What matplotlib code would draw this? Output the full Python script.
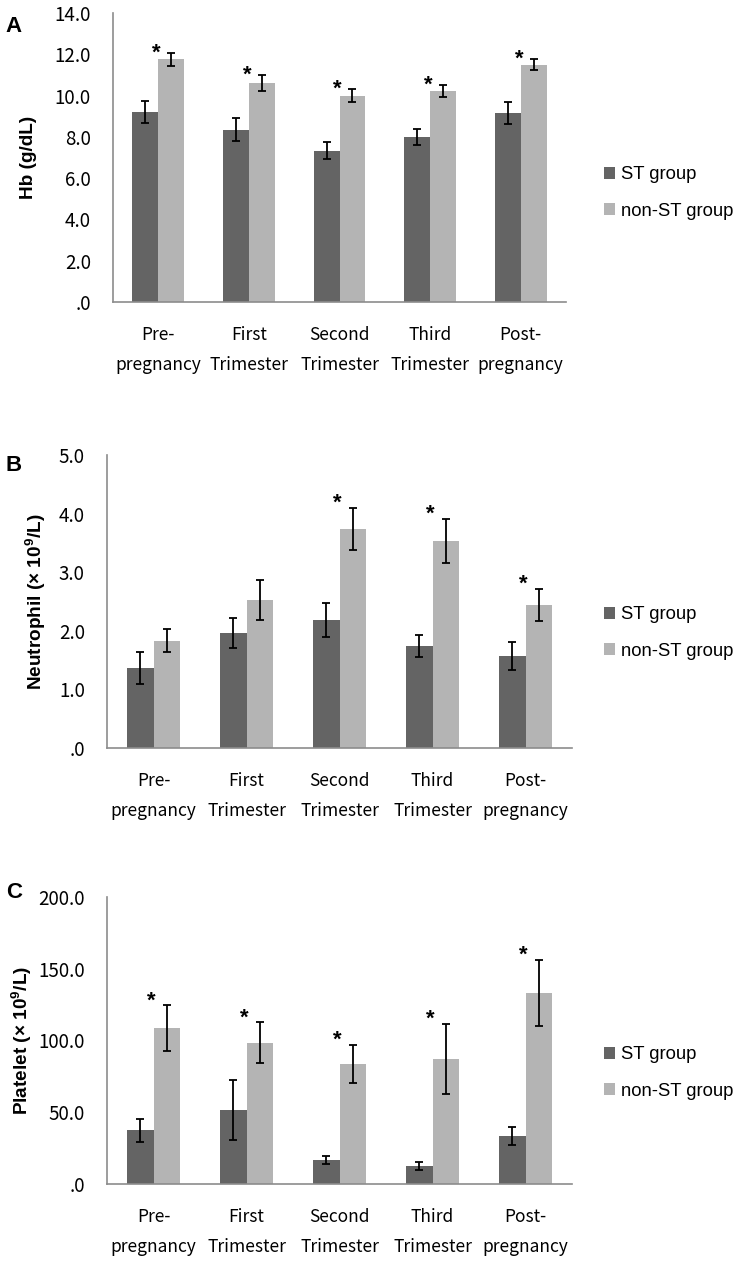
import matplotlib
matplotlib.use('Agg')
import numpy as np
import matplotlib.pyplot as plt
from matplotlib.ticker import FuncFormatter, MultipleLocator

plt.rcParams['mathtext.fontset'] = 'custom'
plt.rcParams['mathtext.rm'] = 'Liberation Sans:bold'
plt.rcParams['mathtext.bf'] = 'Liberation Sans:bold'

# Data
categories = ['Pre-\npregnancy', 'First\nTrimester', 'Second\nTrimester',
              'Third\nTrimester', 'Post-\npregnancy']
series_names = ['ST group', 'non-ST group']

hb_st = [9.2, 8.35, 7.33, 8.0, 9.15]
hb_st_err = [0.53, 0.55, 0.4, 0.39, 0.53]
hb_non = [11.75, 10.6, 10.0, 10.22, 11.5]
hb_non_err = [0.33, 0.4, 0.33, 0.3, 0.26]
hb_star = [True, True, True, True, True]

neu_st = [1.37, 1.96, 2.18, 1.74, 1.57]
neu_st_err = [0.27, 0.26, 0.29, 0.18, 0.24]
neu_non = [1.83, 2.53, 3.74, 3.53, 2.44]
neu_non_err = [0.2, 0.34, 0.36, 0.38, 0.28]
neu_star = [False, False, True, True, True]

plt_st = [37.6, 51.6, 16.7, 12.5, 33.4]
plt_st_err = [8.0, 21.0, 3.1, 2.7, 6.0]
plt_non = [108.7, 98.3, 83.6, 87.2, 133.0]
plt_non_err = [15.7, 14.3, 13.2, 24.4, 23.0]
plt_star = [True, True, True, True, True]

st_color = '#646464'
non_color = '#b4b4b4'
axis_color = '#8c8c8c'

W, H = 742, 1264
fig = plt.figure(figsize=(W / 100, H / 100), dpi=100)


def fy(py):
    # pixel row -> figure fraction
    return 1 - py / H


def tick_fmt(v, pos):
    if abs(v) < 1e-9:
        return '.0'
    return f'{v:.1f}'


def draw_panel(letter, letter_y, ylabel, left_px, right_px, top_px, bot_px, ymax, ystep,
               st, st_err, non, non_err, stars, star_gap_px, legend_y_px, label_px):
    ax = fig.add_axes([left_px / W, fy(bot_px), (right_px - left_px) / W, (bot_px - top_px) / H])
    x = np.arange(len(categories))
    w = 0.285
    ax.bar(x - w / 2, st, w, color=st_color, label=series_names[0], zorder=2)
    ax.bar(x + w / 2, non, w, color=non_color, label=series_names[1], zorder=2)
    ekw = dict(fmt='none', ecolor='black', elinewidth=1.3, capsize=3.2, capthick=1.3, zorder=3)
    ax.errorbar(x - w / 2, st, yerr=st_err, **ekw)
    ax.errorbar(x + w / 2, non, yerr=non_err, **ekw)

    for i, s in enumerate(stars):
        if s:
            ax.annotate('*', (x[i] - 0.02, non[i] + non_err[i]),
                        xytext=(0, (star_gap_px - 12.8) * 0.72), textcoords='offset points',
                        ha='center', va='baseline', fontsize=16, fontweight='bold',
                        family='Liberation Sans', color='black')

    ax.set_xlim(-0.5, len(categories) - 0.5)
    ax.set_ylim(0, ymax)
    ax.yaxis.set_major_locator(MultipleLocator(ystep))
    ax.yaxis.set_major_formatter(FuncFormatter(tick_fmt))
    ax.set_xticks(x)
    ax.set_xticklabels(categories, linespacing=1.87)
    ax.tick_params(axis='both', length=0, colors='black')
    ax.tick_params(axis='y', pad=16, labelsize=13.5)
    ax.tick_params(axis='x', pad=17, labelsize=12.5)
    for lab in ax.get_xticklabels() + ax.get_yticklabels():
        lab.set_family('Noto Sans CJK KR')

    for side in ['top', 'right']:
        ax.spines[side].set_visible(False)
    for side in ['left', 'bottom']:
        ax.spines[side].set_color(axis_color)
        ax.spines[side].set_linewidth(1.2)

    ax.set_ylabel(ylabel, fontsize=13.7, fontweight='bold', family='Liberation Sans')
    ax.yaxis.set_label_coords((label_px - left_px) / (right_px - left_px), 0.5)

    fig.text(14 / W, fy(letter_y), letter, fontsize=16, fontweight='bold',
             family='Liberation Sans', ha='center', va='center')

    fig.legend(loc='center left', bbox_to_anchor=(604 / W, fy(legend_y_px)),
               frameon=False, prop={'family': 'Liberation Sans', 'size': 13.3},
               handlelength=0.6, handleheight=0.6, handletextpad=0.3,
               labelspacing=1.05, borderpad=0, borderaxespad=0,
               handles=ax.patches[:1] + ax.patches[len(categories):len(categories) + 1],
               labels=series_names)
    return ax


draw_panel('A', 26, 'Hb (g/dL)', 113, 566, 13, 302, 14, 2,
           hb_st, hb_st_err, hb_non, hb_non_err, hb_star, 7, 193, 37)
draw_panel('B', 465, r'Neutrophil (× 10$^{\mathbf{9}}$/L)', 107, 572, 455, 748, 5, 1,
           neu_st, neu_st_err, neu_non, neu_non_err, neu_star, 12, 633, 48)
draw_panel('C', 892, r'Platelet (× 10$^{\mathbf{9}}$/L)', 107, 572, 897, 1184, 200, 50,
           plt_st, plt_st_err, plt_non, plt_non_err, plt_star, 12, 1073, 34)

fig.savefig('out.png', dpi=100, facecolor='white')
